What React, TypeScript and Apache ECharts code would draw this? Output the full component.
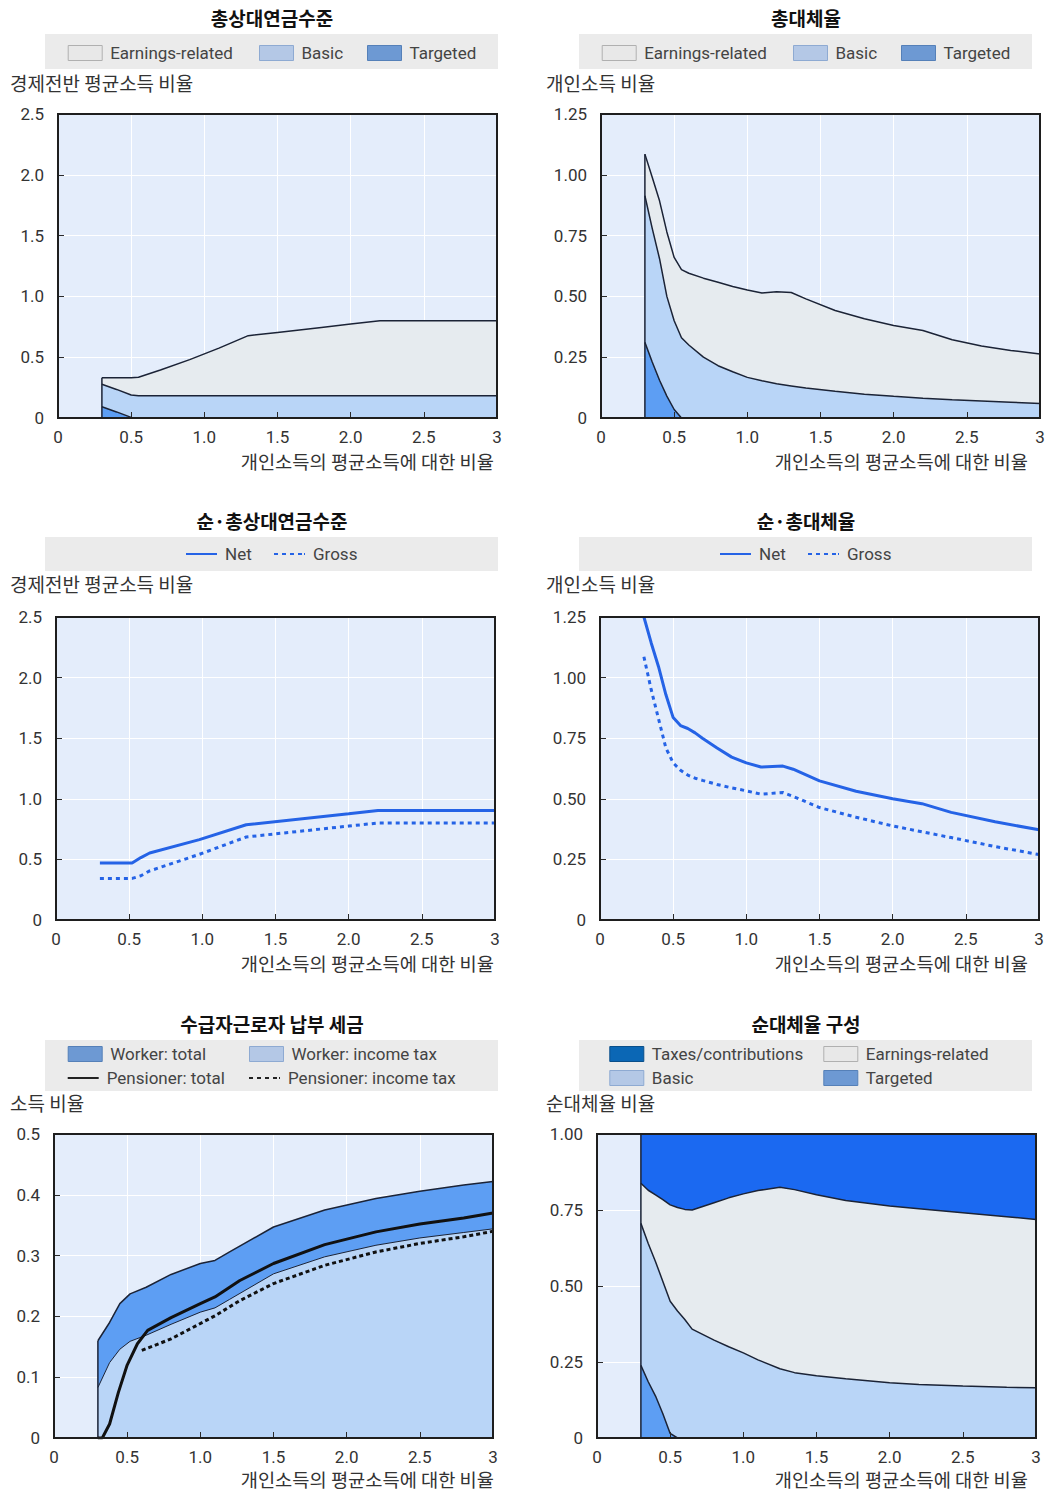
import React, { useEffect, useRef } from 'react';
import * as echarts from 'echarts';

// ---- tick labels ----
const xTickLabels = ['0', '0.5', '1.0', '1.5', '2.0', '2.5', '3'];
const levelTickLabels = ['0', '0.5', '1.0', '1.5', '2.0', '2.5'];
const rateTickLabels = ['0', '0.25', '0.50', '0.75', '1.00', '1.25'];
const taxTickLabels = ['0', '0.1', '0.2', '0.3', '0.4', '0.5'];
const shareTickLabels = ['0', '0.25', '0.50', '0.75', '1.00'];

// ---- texts ----
const panelTitles = ['총상대연금수준', '총대체율', '순·총상대연금수준', '순·총대체율', '수급자근로자 납부 세금', '순대체율 구성'];
const unitLabels = ['경제전반 평균소득 비율', '개인소득 비율', '경제전반 평균소득 비율', '개인소득 비율', '소득 비율', '순대체율 비율'];
const xAxisName = '개인소득의 평균소득에 대한 비율';

// ---- gross pension level (multiple of average earnings) ----
const grossLevelX = [0.3, 0.4, 0.5, 0.55, 0.7, 0.9, 1.1, 1.3, 1.5, 1.8, 2.0, 2.2, 2.5, 3.0];
const grossLevelTargeted = [0.093, 0.05, 0.005, 0, 0, 0, 0, 0, 0, 0, 0, 0, 0, 0];
const grossLevelBasic = [0.184, 0.185, 0.184, 0.183, 0.183, 0.183, 0.183, 0.183, 0.183, 0.183, 0.183, 0.183, 0.183, 0.183];
const grossLevelEarnings = [0.053, 0.095, 0.141, 0.152, 0.212, 0.297, 0.392, 0.494, 0.521, 0.562, 0.59, 0.617, 0.617, 0.617];

// ---- gross replacement rate ----
const grossRateX = [0.3, 0.35, 0.4, 0.45, 0.5, 0.55, 0.6, 0.7, 0.8, 0.9, 1.0, 1.1, 1.2, 1.3, 1.4, 1.6, 1.8, 2.0, 2.2, 2.4, 2.6, 2.8, 3.0];
const grossRateTargeted = [0.311, 0.23, 0.155, 0.09, 0.035, 0, 0, 0, 0, 0, 0, 0, 0, 0, 0, 0, 0, 0, 0, 0, 0, 0, 0];
const grossRateBasic = [0.603, 0.55, 0.5, 0.41, 0.365, 0.33, 0.3, 0.25, 0.215, 0.19, 0.167, 0.153, 0.141, 0.132, 0.123, 0.11, 0.098, 0.089, 0.081, 0.075, 0.07, 0.065, 0.06];
const grossRateEarnings = [0.171, 0.21, 0.238, 0.265, 0.26, 0.28, 0.295, 0.325, 0.343, 0.351, 0.359, 0.361, 0.378, 0.384, 0.367, 0.332, 0.31, 0.291, 0.279, 0.247, 0.226, 0.213, 0.203];

// ---- net vs gross pension level ----
const netLevelX = [0.3, 0.52, 0.58, 0.64, 0.98, 1.3, 2.0, 2.2, 3.0];
const netLevelNet = [0.47, 0.47, 0.515, 0.553, 0.663, 0.786, 0.877, 0.904, 0.904];
const netLevelGross = [0.343, 0.343, 0.365, 0.405, 0.542, 0.685, 0.775, 0.8, 0.8];

// ---- net vs gross replacement rate ----
const netRateX = [0.3, 0.35, 0.4, 0.45, 0.5, 0.55, 0.6, 0.65, 0.7, 0.8, 0.9, 1.0, 1.1, 1.25, 1.32, 1.5, 1.75, 2.0, 2.2, 2.4, 2.7, 3.0];
const netRateNet = [1.25, 1.143, 1.045, 0.93, 0.835, 0.802, 0.79, 0.772, 0.75, 0.71, 0.672, 0.648, 0.631, 0.635, 0.622, 0.574, 0.531, 0.5, 0.48, 0.444, 0.405, 0.372];
const netRateGross = [1.086, 0.95, 0.83, 0.71, 0.648, 0.618, 0.598, 0.585, 0.576, 0.559, 0.545, 0.533, 0.519, 0.526, 0.51, 0.464, 0.424, 0.388, 0.364, 0.34, 0.303, 0.27];

// ---- taxes paid by workers and pensioners (share of income) ----
const workerX = [0.3, 0.38, 0.45, 0.52, 0.63, 0.8, 1.0, 1.1, 1.2, 1.5, 1.85, 2.2, 2.5, 2.8, 3.0];
const workerTotal = [0.16, 0.19, 0.221, 0.237, 0.248, 0.269, 0.287, 0.292, 0.306, 0.347, 0.375, 0.394, 0.406, 0.416, 0.422];
const workerIncomeTax = [0.083, 0.124, 0.146, 0.159, 0.169, 0.187, 0.207, 0.214, 0.228, 0.27, 0.298, 0.317, 0.329, 0.338, 0.344];
const pensionerX = [0.3, 0.33, 0.38, 0.44, 0.5, 0.57, 0.64, 0.8, 1.0, 1.1, 1.27, 1.5, 1.85, 2.2, 2.5, 2.8, 3.0];
const pensionerTotal = [0, 0, 0.023, 0.075, 0.12, 0.155, 0.177, 0.198, 0.221, 0.232, 0.259, 0.287, 0.318, 0.339, 0.352, 0.362, 0.37];
const pensionerTaxX = [0.6, 0.8, 1.1, 1.27, 1.5, 1.85, 2.2, 2.5, 2.8, 3.0];
const pensionerIncomeTax = [0.144, 0.163, 0.201, 0.226, 0.254, 0.284, 0.306, 0.32, 0.331, 0.34];

// ---- composition of the net replacement rate (shares) ----
const shareX = [0.3, 0.35, 0.4, 0.45, 0.5, 0.55, 0.6, 0.65, 0.8, 0.9, 1.0, 1.1, 1.25, 1.35, 1.5, 1.7, 2.0, 2.2, 2.5, 2.8, 3.0];
const shareTargeted = [0.239, 0.185, 0.138, 0.08, 0.015, 0, 0, 0, 0, 0, 0, 0, 0, 0, 0, 0, 0, 0, 0, 0, 0];
const shareBasic = [0.467, 0.455, 0.442, 0.435, 0.435, 0.418, 0.39, 0.358, 0.322, 0.3, 0.28, 0.257, 0.228, 0.215, 0.205, 0.195, 0.182, 0.176, 0.171, 0.167, 0.165];
const shareEarnings = [0.132, 0.175, 0.22, 0.269, 0.317, 0.34, 0.362, 0.392, 0.452, 0.49, 0.523, 0.557, 0.597, 0.602, 0.595, 0.586, 0.581, 0.578, 0.57, 0.561, 0.554];
const shareTaxes = [0.162, 0.185, 0.2, 0.216, 0.233, 0.242, 0.248, 0.25, 0.226, 0.21, 0.197, 0.186, 0.175, 0.183, 0.2, 0.219, 0.237, 0.246, 0.259, 0.272, 0.281];

// ---- styling ----
const KR = 'Noto Sans CJK KR';
const LATIN = 'Roboto';
const EDGE = '#1b2336';
const PLOT_BG = '#e4edfb';
const FILL = {
  earnings: '#e6ebef',
  basic: '#b9d5f7',
  targeted: '#5d9ef3',
  taxes: '#1b69f1',
};
const SWATCH = {
  earnings: { color: '#e8e8e8', borderColor: '#b0b0b0', borderWidth: 1 },
  basic: { color: '#b4c8e6', borderColor: '#8eaad2', borderWidth: 1 },
  targeted: { color: '#6d99d3', borderColor: '#5580b8', borderWidth: 1 },
  taxes: { color: '#0b67b5', borderColor: '#0a4f8a', borderWidth: 1 },
};
const NET_BLUE = '#2563e6';
const SOLID_ICON = 'path://M0,0h31v2h-31z';
const DOTTED_ICON = 'path://M0,0h4v2h-4zM8,0h4v2h-4zM16,0h4v2h-4zM24,0h4v2h-4zM30,0h1v2h-1z';

const PANEL_BOX = [
  { left: 58, top: 114, width: 439, height: 304 },
  { left: 601, top: 114, width: 439, height: 304 },
  { left: 56, top: 617, width: 439, height: 303 },
  { left: 600, top: 617, width: 439, height: 303 },
  { left: 54, top: 1134, width: 439, height: 304 },
  { left: 597, top: 1134, width: 439, height: 304 },
];
const Y_SCALE = [
  { max: 2.5, interval: 0.5, labels: levelTickLabels },
  { max: 1.25, interval: 0.25, labels: rateTickLabels },
  { max: 2.5, interval: 0.5, labels: levelTickLabels },
  { max: 1.25, interval: 0.25, labels: rateTickLabels },
  { max: 0.5, interval: 0.1, labels: taxTickLabels },
  { max: 1.0, interval: 0.25, labels: shareTickLabels },
];
const COL_CENTER = [272, 806];
const COL_UNIT_LEFT = [10, 546];
const COL_XNAME_RIGHT = [494, 1028];
const ROW_TITLE_TOP = [7.5, 510.5, 1013.5];
const ROW_UNIT_TOP = [72.5, 574, 1092.5];
const ROW_XNAME_TOP = [450.5, 952.5, 1468.5];
const ROW_BAND = [
  { y: 34, h: 35 },
  { y: 537, h: 34 },
  { y: 1040, h: 51 },
];
const COL_BAND_X = [45, 579];

const pairs = (xs: number[], ys: number[]) => xs.map((x, i) => [x, ys[i]]);

// running totals of the component arrays, bottom component first
function cumulative(...parts: number[][]): number[][] {
  const out: number[][] = [];
  let acc = parts[0].map(() => 0);
  parts.forEach((p) => {
    acc = acc.map((v, i) => v + p[i]);
    out.push(acc);
  });
  return out;
}

function layerArea(name: string, axis: number, xs: number[], ys: number[], fill: string, width: number) {
  return {
    name,
    type: 'line',
    xAxisIndex: axis,
    yAxisIndex: axis,
    data: pairs(xs, ys),
    symbol: 'none',
    showSymbol: false,
    lineStyle: { color: EDGE, width },
    itemStyle: { color: fill },
    areaStyle: { color: fill, opacity: 1 },
    silent: true,
    z: 2,
  };
}

function plainLine(name: string, axis: number, xs: number[], ys: number[], color: string, type: any) {
  return {
    name,
    type: 'line',
    xAxisIndex: axis,
    yAxisIndex: axis,
    data: pairs(xs, ys),
    symbol: 'none',
    showSymbol: false,
    lineStyle: { color, width: 3, type },
    itemStyle: { color },
    silent: true,
    z: 4,
  };
}

// vertical left edge of the filled region at the first income point
function leftEdge(axis: number, x0: number, top: number) {
  return {
    name: 'edge',
    type: 'line',
    xAxisIndex: axis,
    yAxisIndex: axis,
    data: [[x0, 0], [x0, top]],
    symbol: 'none',
    showSymbol: false,
    lineStyle: { color: EDGE, width: 1.5 },
    silent: true,
    z: 3,
  };
}

const legendText = { fontSize: 17, fontFamily: LATIN, color: '#444', lineHeight: 18, padding: [0, 0, 0, 3] };

function legendRect(name: string, left: number, centerY: number, swatch: any) {
  return {
    left,
    top: centerY - 9,
    padding: 0,
    itemWidth: 34,
    itemHeight: 15,
    selectedMode: false,
    textStyle: legendText,
    data: [{ name, icon: 'rect', itemStyle: swatch }],
  };
}

function legendLine(name: string, left: number, centerY: number, color: string, dotted: boolean) {
  return {
    left,
    top: centerY - 9,
    padding: 0,
    itemWidth: 31,
    itemHeight: 2,
    selectedMode: false,
    textStyle: legendText,
    data: [{ name, icon: dotted ? DOTTED_ICON : SOLID_ICON, itemStyle: { color, borderWidth: 0 } }],
  };
}

function buildOption() {
  const grid: any[] = [];
  const xAxis: any[] = [];
  const yAxis: any[] = [];
  const title: any[] = [];
  const graphic: any[] = [];

  PANEL_BOX.forEach((box, i) => {
    const col = i % 2;
    const row = Math.floor(i / 2);
    const ys = Y_SCALE[i];
    grid.push({
      left: box.left,
      top: box.top,
      width: box.width,
      height: box.height,
      show: true,
      backgroundColor: PLOT_BG,
      borderWidth: 0,
      containLabel: false,
      outerBoundsMode: 'none',
    });
    // labelled axes with inward ticks, drawn above the series
    xAxis.push({
      gridIndex: i,
      type: 'value',
      min: 0,
      max: 3,
      interval: 0.5,
      position: 'bottom',
      z: 10,
      axisLine: { show: false },
      axisTick: { show: true, inside: true, length: 6, lineStyle: { color: '#2a2a2a', width: 1 } },
      axisLabel: {
        margin: 10,
        fontSize: 17,
        fontFamily: LATIN,
        color: '#333',
        formatter: (v: number) => xTickLabels[Math.round(v / 0.5)] ?? '',
      },
      splitLine: { show: false },
    });
    // grid lines, drawn beneath the series
    xAxis.push({
      gridIndex: i,
      type: 'value',
      min: 0,
      max: 3,
      interval: 0.5,
      position: 'top',
      z: 0,
      axisLine: { show: false },
      axisTick: { show: false },
      axisLabel: { show: false },
      splitLine: { show: true, lineStyle: { color: '#ffffff', width: 1 } },
    });
    yAxis.push({
      gridIndex: i,
      type: 'value',
      min: 0,
      max: ys.max,
      interval: ys.interval,
      position: 'left',
      z: 10,
      axisLine: { show: false },
      axisTick: { show: true, inside: true, length: 6, lineStyle: { color: '#2a2a2a', width: 1 } },
      axisLabel: {
        margin: 14,
        fontSize: 17,
        fontFamily: LATIN,
        color: '#333',
        formatter: (v: number) => ys.labels[Math.round(v / ys.interval)] ?? '',
      },
      splitLine: { show: false },
    });
    yAxis.push({
      gridIndex: i,
      type: 'value',
      min: 0,
      max: ys.max,
      interval: ys.interval,
      position: 'right',
      z: 0,
      axisLine: { show: false },
      axisTick: { show: false },
      axisLabel: { show: false },
      splitLine: { show: true, lineStyle: { color: '#ffffff', width: 1 } },
    });

    title.push({
      text: panelTitles[i],
      left: COL_CENTER[col],
      top: ROW_TITLE_TOP[row],
      textAlign: 'center',
      padding: 0,
      textStyle: { fontSize: 19, fontWeight: 'bold', fontFamily: KR, color: '#111', lineHeight: 19 },
    });
    title.push({
      text: unitLabels[i],
      left: COL_UNIT_LEFT[col],
      top: ROW_UNIT_TOP[row],
      textAlign: 'left',
      padding: 0,
      textStyle: { fontSize: 19, fontWeight: 'normal', fontFamily: KR, color: '#333', lineHeight: 19 },
    });
    title.push({
      text: xAxisName,
      left: COL_XNAME_RIGHT[col],
      top: ROW_XNAME_TOP[row],
      textAlign: 'right',
      padding: 0,
      textStyle: { fontSize: 18.7, fontWeight: 'normal', fontFamily: KR, color: '#333', lineHeight: 19 },
    });

    // legend band
    graphic.push({
      type: 'rect',
      shape: { x: COL_BAND_X[col], y: ROW_BAND[row].y, width: 453, height: ROW_BAND[row].h },
      style: { fill: '#ebebeb' },
      silent: true,
      z: 0,
    });
    // plot frame
    graphic.push({
      type: 'rect',
      shape: { x: box.left, y: box.top, width: box.width, height: box.height },
      style: { fill: 'none', stroke: '#1e1e1e', lineWidth: 2 },
      silent: true,
      z: 100,
    });
  });

  const ax = (i: number) => i * 2;

  const [glT, glTB, glAll] = cumulative(grossLevelTargeted, grossLevelBasic, grossLevelEarnings);
  const [grT, grTB, grAll] = cumulative(grossRateTargeted, grossRateBasic, grossRateEarnings);
  const [shT, shTB, shTBE, shAll] = cumulative(shareTargeted, shareBasic, shareEarnings, shareTaxes);

  const series: any[] = [
    // 1. gross pension level (layers painted top-down)
    layerArea('Earnings-related', ax(0), grossLevelX, glAll, FILL.earnings, 1.5),
    layerArea('Basic', ax(0), grossLevelX, glTB, FILL.basic, 1.5),
    layerArea('Targeted', ax(0), grossLevelX, glT, FILL.targeted, 1.5),
    leftEdge(ax(0), grossLevelX[0], glAll[0]),
    // 2. gross replacement rate
    layerArea('Earnings-related', ax(1), grossRateX, grAll, FILL.earnings, 1.5),
    layerArea('Basic', ax(1), grossRateX, grTB, FILL.basic, 1.5),
    layerArea('Targeted', ax(1), grossRateX, grT, FILL.targeted, 1.5),
    leftEdge(ax(1), grossRateX[0], grAll[0]),
    // 3. net / gross pension level
    plainLine('Net', ax(2), netLevelX, netLevelNet, NET_BLUE, 'solid'),
    plainLine('Gross', ax(2), netLevelX, netLevelGross, NET_BLUE, [4, 4]),
    // 4. net / gross replacement rate
    plainLine('Net', ax(3), netRateX, netRateNet, NET_BLUE, 'solid'),
    plainLine('Gross', ax(3), netRateX, netRateGross, NET_BLUE, [4, 4]),
    // 5. taxes paid
    layerArea('Worker: total', ax(4), workerX, workerTotal, FILL.targeted, 1.5),
    layerArea('Worker: income tax', ax(4), workerX, workerIncomeTax, FILL.basic, 1),
    leftEdge(ax(4), workerX[0], workerTotal[0]),
    plainLine('Pensioner: total', ax(4), pensionerX, pensionerTotal, '#111111', 'solid'),
    plainLine('Pensioner: income tax', ax(4), pensionerTaxX, pensionerIncomeTax, '#111111', [4, 3]),
    // 6. composition of net replacement rate
    layerArea('Taxes/contributions', ax(5), shareX, shAll, FILL.taxes, 1),
    layerArea('Earnings-related', ax(5), shareX, shTBE, FILL.earnings, 1.5),
    layerArea('Basic', ax(5), shareX, shTB, FILL.basic, 1.5),
    layerArea('Targeted', ax(5), shareX, shT, FILL.targeted, 1.5),
    leftEdge(ax(5), shareX[0], shAll[0]),
  ];

  const legend: any[] = [];
  [0, 534].forEach((dx) => {
    legend.push(legendRect('Earnings-related', 67.7 + dx, 53, SWATCH.earnings));
    legend.push(legendRect('Basic', 259 + dx, 53, SWATCH.basic));
    legend.push(legendRect('Targeted', 367 + dx, 53, SWATCH.targeted));
    legend.push(legendLine('Net', 186 + dx, 554, NET_BLUE, false));
    legend.push(legendLine('Gross', 274 + dx, 554, NET_BLUE, true));
  });
  legend.push(legendRect('Worker: total', 67.7, 1054, SWATCH.targeted));
  legend.push(legendRect('Worker: income tax', 249, 1054, SWATCH.basic));
  legend.push(legendLine('Pensioner: total', 67.7, 1078, '#222222', false));
  legend.push(legendLine('Pensioner: income tax', 249, 1078, '#222222', true));
  legend.push(legendRect('Taxes/contributions', 609.3, 1054, SWATCH.taxes));
  legend.push(legendRect('Earnings-related', 823.3, 1054, SWATCH.earnings));
  legend.push(legendRect('Basic', 609.3, 1078, SWATCH.basic));
  legend.push(legendRect('Targeted', 823.3, 1078, SWATCH.targeted));

  return {
    animation: false,
    backgroundColor: '#ffffff',
    textStyle: { fontFamily: LATIN },
    title,
    legend,
    grid,
    xAxis,
    yAxis,
    graphic,
    series,
  };
}

export default function App() {
  const ref = useRef<HTMLDivElement>(null);
  useEffect(() => {
    if (!ref.current) return;
    const chart = echarts.init(ref.current, undefined, { renderer: 'svg' });
    chart.setOption(buildOption() as any);
    return () => chart.dispose();
  }, []);
  return (
    <div
      ref={ref}
      style={{ position: 'absolute', left: 0, top: 0, width: 1047, height: 1492, background: '#ffffff' }}
    />
  );
}
